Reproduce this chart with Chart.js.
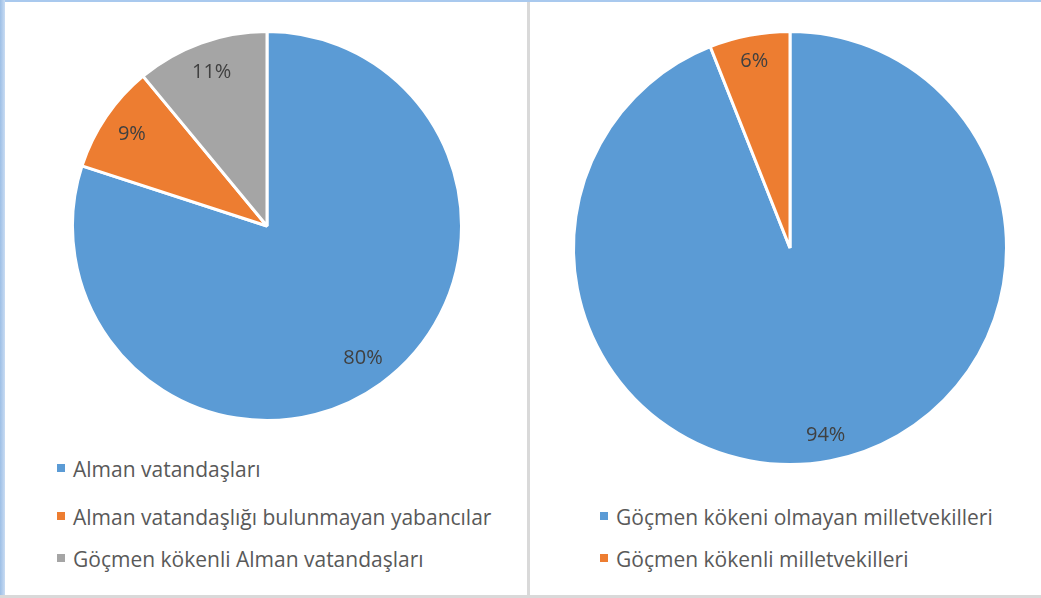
<!DOCTYPE html>
<html>
<head>
<meta charset="utf-8">
<script src="https://cdn.jsdelivr.net/npm/chart.js@4"></script>
<style>
  html, body { margin: 0; padding: 0; background: #fff; }
  body { width: 1041px; height: 598px; position: relative; overflow: hidden; font-family: "Open Sans", Lato, sans-serif; }
  .frame-top { position: absolute; left: 0; top: 0; width: 1041px; height: 2px; background: #a9c9ee; }
  .frame-left { position: absolute; left: 0; top: 0; width: 5px; height: 598px; background: linear-gradient(to right, #9dbfe6, #c9dcf3); }
  .frame-bottom { position: absolute; left: 0; top: 595px; width: 1041px; height: 3px; background: #d9d9d9; }
  .divider { position: absolute; left: 527px; top: 2px; width: 3px; height: 596px; background: #d9d9d9; }
  .pie { position: absolute; }
  .legend { position: absolute; color: #595959; font-size: 21px; }
  .legend div { position: absolute; white-space: nowrap; left: 0; line-height: 28px; }
  .legend span { display: inline-block; width: 8px; height: 8px; margin-right: 8px; vertical-align: 5px; }
</style>
</head>
<body>
<div class="frame-top"></div>
<div class="frame-left"></div>
<div class="divider"></div>
<div class="frame-bottom"></div>

<div class="pie" style="left:67px; top:26px; width:400px; height:400px;"><canvas id="leftPie"></canvas></div>
<div class="pie" style="left:568px; top:26px; width:444px; height:444px;"><canvas id="rightPie"></canvas></div>

<div class="legend" id="leftLegend" style="left:57px; top:0;"></div>
<div class="legend" id="rightLegend" style="left:600px; top:0;"></div>

<script>
const leftLabels = ['Alman vatandaşları', 'Alman vatandaşlığı bulunmayan yabancılar', 'Göçmen kökenli Alman vatandaşları'];
const leftValues = [80, 9, 11];
const rightLabels = ['Göçmen kökeni olmayan milletvekilleri', 'Göçmen kökenli milletvekilleri'];
const rightValues = [94, 6];
const sliceColors = ['#5b9bd5', '#ed7d31', '#a5a5a5'];

// percent labels placed inside each slice
const sliceLabels = {
    id: 'sliceLabels',
    afterDatasetsDraw(chart, args, opts) {
        const ctx = chart.ctx;
        const meta = chart.getDatasetMeta(0);
        const values = chart.data.datasets[0].data;
        ctx.save();
        ctx.font = '20px "Open Sans", Lato, sans-serif';
        ctx.fillStyle = '#404040';
        ctx.textAlign = 'center';
        ctx.textBaseline = 'middle';
        meta.data.forEach((arc, i) => {
            const p = arc.getProps(['x', 'y', 'startAngle', 'endAngle', 'outerRadius'], true);
            const mid = (p.startAngle + p.endAngle) / 2;
            const r = p.outerRadius * opts.ratio;
            ctx.fillText(values[i] + '%', p.x + Math.cos(mid) * r, p.y + Math.sin(mid) * r);
        });
        ctx.restore();
    }
};

function makePie(id, labels, values, ratio) {
    return new Chart(document.getElementById(id), {
        type: 'pie',
        data: { labels: labels, datasets: [{ data: values, backgroundColor: sliceColors.slice(0, values.length), borderColor: '#ffffff', borderWidth: 3 }] },
        options: {
            responsive: true, maintainAspectRatio: false, animation: false,
            layout: { padding: 4 },
            plugins: { legend: { display: false }, tooltip: { enabled: false }, sliceLabels: { ratio: ratio } }
        },
        plugins: [sliceLabels]
    });
}

function renderLegend(id, labels, tops) {
    const box = document.getElementById(id);
    box.innerHTML = labels.map((lab, i) =>
        `<div style="top:${tops[i]}px"><span style="background:${sliceColors[i]}"></span>${lab}</div>`
    ).join('');
}

makePie('leftPie', leftLabels, leftValues, 0.84);
makePie('rightPie', rightLabels, rightValues, 0.88);
renderLegend('leftLegend', leftLabels, [455, 503, 545]);
renderLegend('rightLegend', rightLabels, [503, 545]);
</script>
</body>
</html>
